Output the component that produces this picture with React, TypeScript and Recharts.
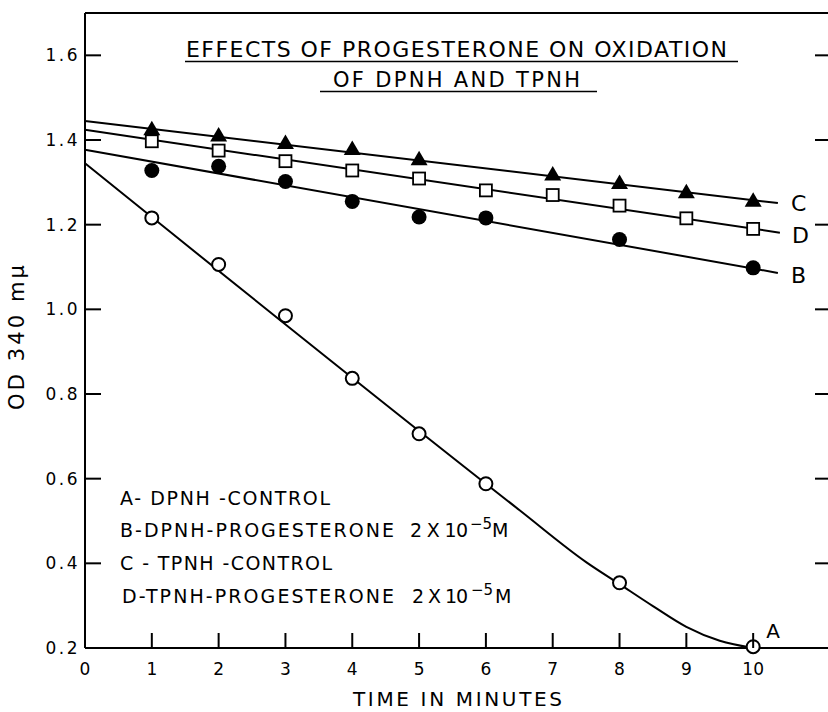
import { ComposedChart, Line, XAxis, YAxis, ReferenceLine } from "recharts"

const FONT = "'DejaVu Sans', sans-serif"

// axis ranges and ticks
const X_MAX = 11.15
const Y_MIN = 0.2
const Y_MAX = 1.7
const xTicks = [0, 1, 2, 3, 4, 5, 6, 7, 8, 9, 10]
const yTicks = [0.2, 0.4, 0.6, 0.8, 1.0, 1.2, 1.4, 1.6]

// measured points (time in minutes, OD 340)
const timeA = [1, 2, 3, 4, 5, 6, 8, 10]
const odA = [1.216, 1.106, 0.985, 0.837, 0.706, 0.588, 0.354, 0.203]

const timeB = [1, 2, 3, 4, 5, 6, 8, 10]
const odB = [1.328, 1.338, 1.302, 1.255, 1.218, 1.216, 1.165, 1.098]

const timeC = [1, 2, 3, 4, 5, 7, 8, 9, 10]
const odC = [1.428, 1.413, 1.395, 1.381, 1.357, 1.321, 1.301, 1.279, 1.259]

const timeD = [1, 2, 3, 4, 5, 6, 7, 8, 9, 10]
const odD = [1.397, 1.375, 1.35, 1.328, 1.309, 1.281, 1.27, 1.245, 1.215, 1.19]

// hand-drawn curves
const fitTimeA = [0, 6.5, 7.5, 8, 8.5, 9, 9.5, 10]
const fitOdA = [1.345, 0.526, 0.403, 0.351, 0.299, 0.25, 0.217, 0.2]
const fitTimeB = [0, 10.37]
const fitOdB = [1.377, 1.086]
const fitTimeC = [0, 10.37]
const fitOdC = [1.445, 1.251]
const fitTimeD = [0, 10.4]
const fitOdD = [1.424, 1.181]

const zip = (t: number[], v: number[]) => t.map((x, i) => ({ t: x, v: v[i] }))

const ptsA = zip(timeA, odA)
const ptsB = zip(timeB, odB)
const ptsC = zip(timeC, odC)
const ptsD = zip(timeD, odD)
const fitA = zip(fitTimeA, fitOdA)
const fitB = zip(fitTimeB, fitOdB)
const fitC = zip(fitTimeC, fitOdC)
const fitD = zip(fitTimeD, fitOdD)

// chart box: margins + axis sizes below give this plot area
const MARGIN = { top: 13, right: 2, bottom: 34, left: 25 }
const CHART_W = 832
const CHART_H = 712
const X_AXIS_H = 30
const Y_AXIS_W = 60
const PLOT_L = MARGIN.left + Y_AXIS_W
const PLOT_R = CHART_W - MARGIN.right
const PLOT_T = MARGIN.top
const PLOT_B = CHART_H - MARGIN.bottom - X_AXIS_H
const TICK = 15

const tickX = (t: number) => PLOT_L + (t / X_MAX) * (PLOT_R - PLOT_L)
const tickY = (v: number) => PLOT_B - ((v - Y_MIN) / (Y_MAX - Y_MIN)) * (PLOT_B - PLOT_T)

const axisStroke = { stroke: "#000", strokeWidth: 2 }

const XTick = ({ x, y, payload }: any) => (
  <text x={x} y={y + 27} textAnchor="middle" fontSize={17} fontFamily={FONT} fill="#000">
    {payload.value}
  </text>
)

const YTick = ({ x, y, payload }: any) => (
  <text
    x={x - 5}
    y={y}
    dy="0.36em"
    textAnchor="end"
    fontSize={17}
    letterSpacing={2.5}
    fontFamily={FONT}
    fill="#000"
  >
    {Number(payload.value).toFixed(1)}
  </text>
)

const endLabel = (name: string, last: number, dx: number, dy: number) => (p: any) =>
  p.index === last ? (
    <text key={`lbl-${name}`} x={p.cx + dx} y={p.cy + dy} dy="0.36em" fontSize={22} fontFamily={FONT} fill="#000">
      {name}
    </text>
  ) : (
    <g key={`n-${name}-${p.index}`} />
  )

const openCircle = (p: any) => (
  <g key={`a-${p.index}`}>
    <circle cx={p.cx} cy={p.cy} r={6.5} fill="#fff" stroke="#000" strokeWidth={2} />
    {p.index === ptsA.length - 1 && (
      <text x={p.cx + 13} y={p.cy - 9} fontSize={20} fontFamily={FONT} fill="#000">
        A
      </text>
    )}
  </g>
)

const filledCircle = (p: any) => <circle key={`b-${p.index}`} cx={p.cx} cy={p.cy} r={7.5} fill="#000" />

const triangle = (p: any) => (
  <polygon
    key={`c-${p.index}`}
    points={`${p.cx},${p.cy - 7.5} ${p.cx - 8.5},${p.cy + 7} ${p.cx + 8.5},${p.cy + 7}`}
    fill="#000"
  />
)

const square = (p: any) => (
  <rect key={`d-${p.index}`} x={p.cx - 6} y={p.cy - 6} width={12} height={12} fill="#fff" stroke="#000" strokeWidth={1.8} />
)

const Overlay = () => (
  <svg
    width={828}
    height={712}
    style={{ position: "absolute", left: 0, top: 0, pointerEvents: "none" }}
    fontFamily={FONT}
  >
    {/* inward tick marks on bottom, left and right */}
    {xTicks.map((t) => (
      <line key={`xt-${t}`} x1={tickX(t)} y1={PLOT_B} x2={tickX(t)} y2={PLOT_B - TICK} stroke="#000" strokeWidth={2} />
    ))}
    {yTicks.map((v) => (
      <line key={`yl-${v}`} x1={PLOT_L} y1={tickY(v)} x2={PLOT_L + TICK + 1} y2={tickY(v)} stroke="#000" strokeWidth={2} />
    ))}
    {yTicks.map((v) => (
      <line key={`yr-${v}`} x1={PLOT_R - TICK} y1={tickY(v)} x2={PLOT_R} y2={tickY(v)} stroke="#000" strokeWidth={2} />
    ))}

    <text x={186} y={57} fontSize={22} textLength={541} lengthAdjust="spacing">
      EFFECTS OF PROGESTERONE ON OXIDATION
    </text>
    <line x1={185} y1={61.5} x2={738} y2={61.5} stroke="#000" strokeWidth={1.6} />
    <text x={333} y={87} fontSize={21} textLength={247} lengthAdjust="spacing">
      OF DPNH AND TPNH
    </text>
    <line x1={320} y1={91.5} x2={597} y2={91.5} stroke="#000" strokeWidth={1.6} />

    <text x={120} y={505} fontSize={19} textLength={210} lengthAdjust="spacing">
      A- DPNH -CONTROL
    </text>
    <text x={120} y={537} fontSize={19} textLength={274} lengthAdjust="spacing">
      B-DPNH-PROGESTERONE
    </text>
    <text x={410} y={537} fontSize={19} textLength={58} lengthAdjust="spacing">
      2 X 10
    </text>
    <text x={470} y={529} fontSize={15}>−5</text>
    <text x={492} y={537} fontSize={19}>M</text>
    <text x={120} y={570} fontSize={19} textLength={212} lengthAdjust="spacing">
      C - TPNH -CONTROL
    </text>
    <text x={122} y={603} fontSize={19} textLength={272} lengthAdjust="spacing">
      D-TPNH-PROGESTERONE
    </text>
    <text x={412} y={603} fontSize={19} textLength={56} lengthAdjust="spacing">
      2 X 10
    </text>
    <text x={471} y={595} fontSize={15}>−5</text>
    <text x={495} y={603} fontSize={19}>M</text>

    <text x={353} y={706} fontSize={20} textLength={209} lengthAdjust="spacing">
      TIME IN MINUTES
    </text>
    <text
      x={0}
      y={0}
      fontSize={21}
      textLength={145}
      lengthAdjust="spacing"
      transform="translate(24,410) rotate(-90)"
    >
      OD 340 mμ
    </text>
  </svg>
)

const App = () => {
  return (
    <div style={{ position: "absolute", left: 0, top: 0, width: 828, height: 712, overflow: "hidden", background: "#fff" }}>
      <div style={{ position: "absolute", left: 0, top: 0 }}>
        <ComposedChart width={CHART_W} height={CHART_H} margin={MARGIN}>
          <XAxis
            type="number"
            dataKey="t"
            domain={[0, X_MAX]}
            ticks={xTicks}
            interval={0}
            height={X_AXIS_H}
            tickSize={0}
            tickMargin={0}
            tickLine={false}
            axisLine={axisStroke}
            tick={<XTick />}
          />
          <YAxis
            type="number"
            domain={[Y_MIN, Y_MAX]}
            ticks={yTicks}
            interval={0}
            width={Y_AXIS_W}
            tickSize={0}
            tickMargin={0}
            tickLine={false}
            axisLine={axisStroke}
            tick={<YTick />}
          />
          <ReferenceLine y={Y_MAX} stroke="#000" strokeWidth={2} />

          <Line data={fitA} dataKey="v" type="monotone" stroke="#000" strokeWidth={2} dot={false} isAnimationActive={false} />
          <Line data={fitB} dataKey="v" type="linear" stroke="#000" strokeWidth={2} dot={endLabel("B", fitB.length - 1, 13, 2)} isAnimationActive={false} />
          <Line data={fitC} dataKey="v" type="linear" stroke="#000" strokeWidth={2} dot={endLabel("C", fitC.length - 1, 13, 0)} isAnimationActive={false} />
          <Line data={fitD} dataKey="v" type="linear" stroke="#000" strokeWidth={2} dot={endLabel("D", fitD.length - 1, 12, 2)} isAnimationActive={false} />

          <Line data={ptsA} dataKey="v" stroke="none" dot={openCircle} isAnimationActive={false} />
          <Line data={ptsB} dataKey="v" stroke="none" dot={filledCircle} isAnimationActive={false} />
          <Line data={ptsC} dataKey="v" stroke="none" dot={triangle} isAnimationActive={false} />
          <Line data={ptsD} dataKey="v" stroke="none" dot={square} isAnimationActive={false} />
        </ComposedChart>
      </div>
      <Overlay />
    </div>
  )
}

export default App
